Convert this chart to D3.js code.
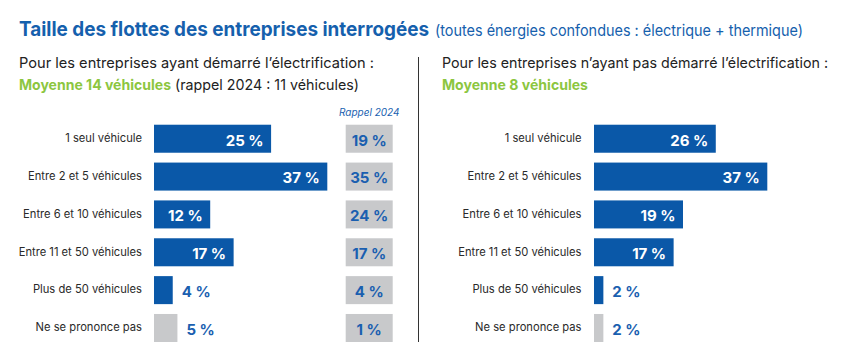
<!DOCTYPE html>
<html><head><meta charset="utf-8">
<script src="https://cdn.jsdelivr.net/npm/d3@7"></script>
<style>html,body{margin:0;padding:0;background:#fff}svg{display:block}</style>
</head><body>
<svg id="c" width="858" height="359"></svg>
<script>
const categories = ["1 seul véhicule","Entre 2 et 5 véhicules","Entre 6 et 10 véhicules","Entre 11 et 50 véhicules","Plus de 50 véhicules","Ne se prononce pas"];
const withElec = [25,37,12,17,4,5];
const rappel2024 = [19,35,24,17,4,1];
const withoutElec = [26,37,19,17,2,2];

const BLUE = "#0a58a8", TXT_BLUE = "#1a5fb0", GRAY = "#c8c9cb", GREEN = "#8cc63f", DARK = "#222";
const FONT = "Inter, 'Open Sans', sans-serif";
const svg = d3.select("#c");

// Titles
svg.append("text").attr("x",19).attr("y",36).attr("font-family",FONT).attr("font-weight",700)
  .attr("font-size",20).attr("fill","#1560ad").attr("textLength",410).attr("lengthAdjust","spacingAndGlyphs")
  .text("Taille des flottes des entreprises interrogées");
svg.append("text").attr("x",435).attr("y",36).attr("font-family",FONT).attr("font-weight",400)
  .attr("font-size",15.5).attr("fill","#1560ad").attr("textLength",368).attr("lengthAdjust","spacingAndGlyphs")
  .text("(toutes énergies confondues : électrique + thermique)");

function sub(x,y,txt,len,color,weight){
  svg.append("text").attr("x",x).attr("y",y).attr("font-family",FONT).attr("font-weight",weight)
    .attr("font-size",14.5).attr("fill",color).attr("textLength",len).attr("lengthAdjust","spacingAndGlyphs").text(txt);
}
sub(19,67.5,"Pour les entreprises ayant démarré l’électrification :",355,DARK,400);
sub(19,89.5,"Moyenne 14 véhicules",152,GREEN,700);
sub(175,89.5,"(rappel 2024 : 11 véhicules)",184,DARK,400);
sub(442,67.5,"Pour les entreprises n’ayant pas démarré l’électrification :",386,DARK,400);
sub(442,89.5,"Moyenne 8 véhicules",146,GREEN,700);

// divider
svg.append("line").attr("x1",418.5).attr("x2",418.5).attr("y1",57).attr("y2",342).attr("stroke","#333").attr("stroke-width",1);

const y = d3.scaleBand().domain(categories).range([119.8,346.9]).paddingInner(0.26).paddingOuter(0.13);
const x = d3.scaleLinear().domain([0,37]).range([0,173.3]);

function panel(x0, labelX, values){
  const g = svg.append("g");
  g.selectAll("text.cat").data(categories).join("text")
    .attr("x",labelX).attr("y",d=>y(d)+y.bandwidth()/2).attr("dy","0.3em")
    .attr("text-anchor","end").attr("font-family",FONT).attr("font-size",11.2).attr("fill","#2a2a2a")
    .text(d=>d);
  const data = categories.map((c,i)=>({c,v:values[i],i}));
  g.selectAll("rect").data(data).join("rect")
    .attr("x",x0).attr("y",d=>y(d.c)).attr("width",d=>x(d.v)).attr("height",y.bandwidth())
    .attr("fill",d=>d.i===categories.length-1?GRAY:BLUE);
  g.selectAll("text.val").data(data).join("text")
    .attr("x",d=>d.v>=10? x0+x(d.v)-7.5 : x0+x(d.v)+9)
    .attr("y",d=>y(d.c)+y.bandwidth()/2+1.5).attr("dy","0.36em")
    .attr("text-anchor",d=>d.v>=10?"end":"start")
    .attr("font-family",FONT).attr("font-weight",700).attr("font-size",15)
    .attr("fill",d=>d.v>=10?"#fff":TXT_BLUE)
    .text(d=>d.v+" %");
}
panel(154, 142, withElec);
panel(594, 581.5, withoutElec);

// Rappel 2024 column
svg.append("text").attr("x",399.5).attr("y",116).attr("text-anchor","end").attr("font-family",FONT)
  .attr("font-style","italic").attr("font-size",10).attr("fill",TXT_BLUE).text("Rappel 2024");
const rg = svg.append("g");
const rdata = categories.map((c,i)=>({c,v:rappel2024[i]}));
rg.selectAll("rect").data(rdata).join("rect")
  .attr("x",345.7).attr("y",d=>y(d.c)).attr("width",47).attr("height",y.bandwidth()).attr("fill",GRAY);
rg.selectAll("text").data(rdata).join("text")
  .attr("x",369.2).attr("y",d=>y(d.c)+y.bandwidth()/2+1.5).attr("dy","0.36em").attr("text-anchor","middle")
  .attr("font-family",FONT).attr("font-weight",700).attr("font-size",15).attr("fill",TXT_BLUE)
  .text(d=>d.v+" %");
</script>
</body></html>
